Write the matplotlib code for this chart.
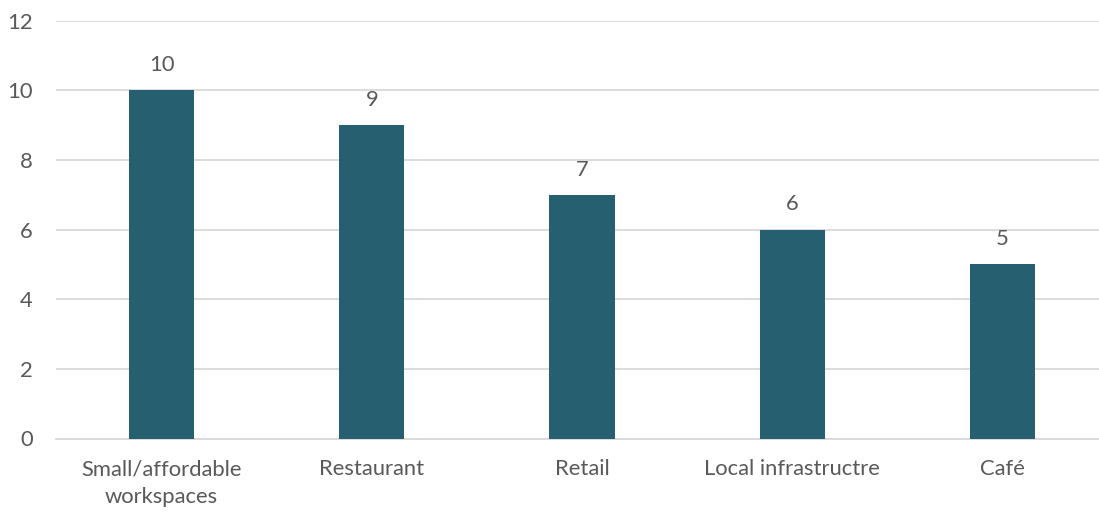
import matplotlib
matplotlib.use("Agg")
import matplotlib.pyplot as plt

categories = ["Small/affordable\nworkspaces", "Restaurant", "Retail",
              "Local infrastructre", "Café"]
values = [10, 9, 7, 6, 5]

bar_color = "#265f6f"
text_color = "#595959"
grid_color = "#d9d9d9"

plt.rcParams["font.family"] = ["Lato", "DejaVu Sans"]

fig = plt.figure(figsize=(10.99, 5.12), dpi=100)
# axes run a bit past the right edge, as in the original crop
ax = fig.add_axes([56.4 / 1099, 73.5 / 512, 1051.2 / 1099, 417.8 / 512])

x = range(len(categories))
bars = ax.bar(x, values, width=0.31, color=bar_color, zorder=3)

ax.set_xlim(-0.5, len(categories) - 0.5)
ax.set_ylim(0, 12)
ax.set_yticks(range(0, 13, 2))
ax.set_xticks(list(x))
ax.set_xticklabels(categories, linespacing=1.45)

ax.grid(axis="y", color=grid_color, linewidth=1.3, zorder=0)
for s in ["top", "right", "left"]:
    ax.spines[s].set_visible(False)
ax.spines["bottom"].set_color(grid_color)
ax.spines["bottom"].set_linewidth(1.3)

ax.tick_params(axis="both", length=0, labelsize=15.8, colors=text_color)
ax.tick_params(axis="y", pad=17)
ax.tick_params(axis="x", pad=15)

for b, v in zip(bars, values):
    ax.annotate(str(v), (b.get_x() + b.get_width() / 2, v),
                xytext=(0, 11), textcoords="offset points",
                ha="center", va="bottom", fontsize=15.8, color=text_color)

fig.savefig("out.png", dpi=100)
